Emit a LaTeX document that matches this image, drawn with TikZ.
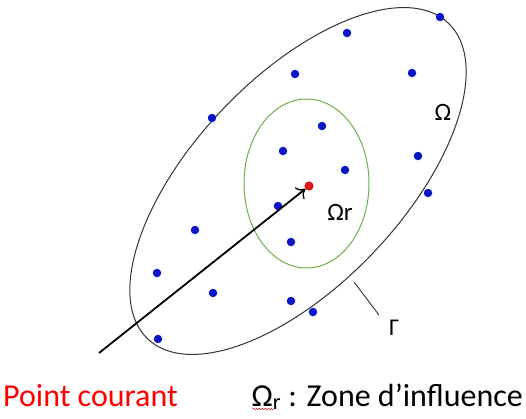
\documentclass[tikz,border=0pt]{standalone}
\usepackage{fontspec}
\setmainfont{Carlito}
\usetikzlibrary{arrows.meta,decorations.pathmorphing}
\definecolor{dotblue}{RGB}{10,20,200}
\definecolor{dotred}{RGB}{230,20,20}
\definecolor{ringgreen}{RGB}{112,173,71}
\definecolor{txtred}{RGB}{255,0,0}
\begin{document}
\begin{tikzpicture}[x=1pt,y=-1pt,
  pt/.style={circle,fill=dotblue,inner sep=0pt,minimum size=8.5pt},
  cur/.style={circle,fill=dotred,draw=red!60!black,line width=0.4pt,inner sep=0pt,minimum size=8.5pt},
  lbl/.style={inner sep=0pt,font=\fontsize{25}{28}\selectfont},
  big/.style={inner sep=0pt,anchor=base,font=\fontsize{32}{36}\selectfont}]
\useasboundingbox (0,0) rectangle (526,418);
% outer domain
\draw[gray!40!black,line width=1pt,rotate around={46.4:(298,181)}] (298,181) ellipse [x radius=218pt,y radius=104pt];
% influence zone
\draw[ringgreen,line width=1pt] (306.5,183.5) ellipse [x radius=62.5pt,y radius=84.5pt];
% points
\foreach \n/\x/\y in {a/440/17,b/347/33,c/295/74,d/412/73,e/212/118,f/322/126,g/283/151,h/345/170,i/418/156,j/428/193,k/278/206,l/195/230,m/291/242,n/157/273,o/213/293,p/291/301,q/313/312,r/158/339}
  \node[pt] (\n) at (\x,\y) {};
\node[cur] (cur) at (309,186) {};
% labels
\node[lbl] (om) at (443,112) {Ω};
\node[lbl] (omr) at (340,212) {Ωr};
\node[lbl,font=\fontsize{24}{28}\selectfont] (gam) at (394,328) {Γ};
\coordinate (gA) at (354,282);
\coordinate (gB) at (379,315);
\draw[gray!40!black,line width=0.9pt] (gA) -- (gB);
% arrow
\coordinate (start) at (99,353);
\draw[line width=1.8pt,-{To[length=8pt,width=15pt,line width=1.3pt]}] (start) -- (cur);
% bottom texts
\node[big,anchor=base west,text=txtred] (pc) at (3,406) {Point courant};
\node[big,anchor=base east] (zi) at (523,406) {Ω\textsubscript{r} : Zone d’influence};
\draw[red!80!black,line width=0.5pt,decorate,decoration={snake,amplitude=0.6pt,segment length=3pt}]
  ([xshift=1pt,yshift=-3pt]zi.base west) -- ++(22,0);
\end{tikzpicture}
\end{document}
